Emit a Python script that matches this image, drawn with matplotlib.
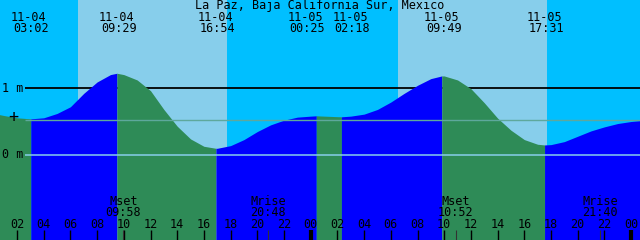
import numpy as np
import matplotlib
matplotlib.use("Agg")
import matplotlib.pyplot as plt

title = "La Paz, Baja California Sur, Mexico"

# tide events (date, time, height m)
ev_dates = ["11-04", "11-04", "11-04", "11-05", "11-05", "11-05", "11-05"]
ev_times = ["03:02", "09:29", "16:54", "00:25", "02:18", "09:49", "17:31"]
ev_heights = [0.54, 1.22, 0.10, 0.585, 0.57, 1.18, 0.15]

# hourly heights (hours from 11-04 00:00)
hours = list(range(0, 50))
heights = [0.63, 0.59, 0.555, 0.54, 0.555, 0.62, 0.72, 0.92, 1.09, 1.20,
           1.20, 1.12, 0.96, 0.68, 0.43, 0.24, 0.13, 0.10, 0.14, 0.23,
           0.35, 0.45, 0.52, 0.565, 0.58, 0.58, 0.572, 0.58, 0.61, 0.68,
           0.79, 0.92, 1.04, 1.14, 1.18, 1.12, 0.99, 0.78, 0.55, 0.37,
           0.23, 0.16, 0.155, 0.20, 0.28, 0.36, 0.42, 0.47, 0.50, 0.52]

# sun (sunrise, sunset) and moon events
sun_times = [("11-04", "06:34", "11-04", "17:43"), ("11-05", "06:31", "11-05", "17:40")]
moon_names = ["Mset", "Mrise", "Mset", "Mrise"]
moon_dates = ["11-04", "11-04", "11-05", "11-05"]
moon_times = ["09:58", "20:48", "10:52", "21:40"]

mean_level = 0.52


def to_hours(d, t):
    day = 0 if d == "11-04" else 24
    hh, mm = t.split(":")
    return day + int(hh) + int(mm) / 60.0


ev_h = [to_hours(d, t) for d, t in zip(ev_dates, ev_times)]
t_all = np.array(hours + ev_h, dtype=float)
h_all = np.array(heights + ev_heights, dtype=float)
order = np.argsort(t_all)
t_all, h_all = t_all[order], h_all[order]

night = "#00BFFF"
day = "#87CEEB"
rise = "#0000FF"
fall = "#2E8B57"

pxh = 13.35
x0 = 2 - 17 / pxh
x1 = x0 + 640 / pxh
ybot = (155 - 240) / 67.0
ytop = 155 / 67.0

fig = plt.figure(figsize=(6.4, 2.4), dpi=100)
ax = fig.add_axes([0, 0, 1, 1])
ax.set_xlim(x0, x1)
ax.set_ylim(ybot, ytop)
ax.axis("off")

ax.axvspan(x0 - 1, x1 + 1, color=night, lw=0, zorder=0)
for d1, s1, d2, s2 in sun_times:
    ax.axvspan(to_hours(d1, s1), to_hours(d2, s2), color=day, lw=0, zorder=0.5)

xl = x0 + 25 / pxh
ax.hlines(1, xl, x1 + 1, color="black", lw=1.3, zorder=1)

# water, blue when rising, green when falling
bounds = [t_all[0]] + ev_h + [t_all[-1]]
for a, b in zip(bounds[:-1], bounds[1:]):
    m = (t_all >= a) & (t_all <= b)
    rising = h_all[m][-1] > h_all[m][0]
    ax.fill_between(t_all[m], ybot - 1, h_all[m], color=rise if rising else fall,
                    lw=0, zorder=2)

ax.hlines(0, xl, x1 + 1, color="#87CEEB", lw=1.1, zorder=3)
ax.hlines(mean_level, xl, x1 + 1, color="#5ea89c", lw=1.0, zorder=3)

font = dict(family="DejaVu Sans Mono", fontsize=8.5, color="black")
px = 1 / 240.0
tr = ax.get_xaxis_transform()
ax.text(0.5, 1 - 6 * px, title, transform=ax.transAxes, ha="center", va="center", **font)

# label nudges (pixels) so close events don't overlap
ev_shift = [-2, 0, 0, -11, 9, 0, 0]
for d, t, h, s in zip(ev_dates, ev_times, ev_h, ev_shift):
    xs = h + s / pxh
    ax.text(xs, 1 - 17.5 * px, d, transform=tr, ha="center", va="center", **font)
    ax.text(xs + 2 / pxh, 1 - 29 * px, t, transform=tr, ha="center", va="center", **font)

ax.text(x0 + 2 / pxh, 1, "1 m", ha="left", va="center", zorder=4, **font)
ax.text(x0 + 2 / pxh, 0, "0 m", ha="left", va="center", zorder=4, **font)
ax.text(x0 + 13 / pxh, mean_level + 0.05, "+", ha="center", va="center", zorder=4,
        family="DejaVu Sans Mono", fontsize=12, color="black")

ticks = np.arange(2, 49, 2)
ax.vlines(ticks, 0, 10 * px, transform=tr, color="black", lw=1, zorder=5)
for tk in ticks:
    if tk % 24 == 0:
        ax.vlines(tk, 0, 10 * px, transform=tr, color="black", lw=3, zorder=5)
    ax.text(tk, 15 * px, "%02d" % (tk % 24), transform=tr, ha="center", va="center", zorder=5, **font)

for n, d, t in zip(moon_names, moon_dates, moon_times):
    mh = to_hours(d, t)
    ax.vlines(mh, 0, 10 * px, transform=tr, color="#333333", lw=0.8, zorder=5)
    ax.text(mh, 38.5 * px, n, transform=tr, ha="center", va="center", zorder=5, **font)
    ax.text(mh, 27 * px, t, transform=tr, ha="center", va="center", zorder=5, **font)

fig.savefig("out.png", dpi=100)
